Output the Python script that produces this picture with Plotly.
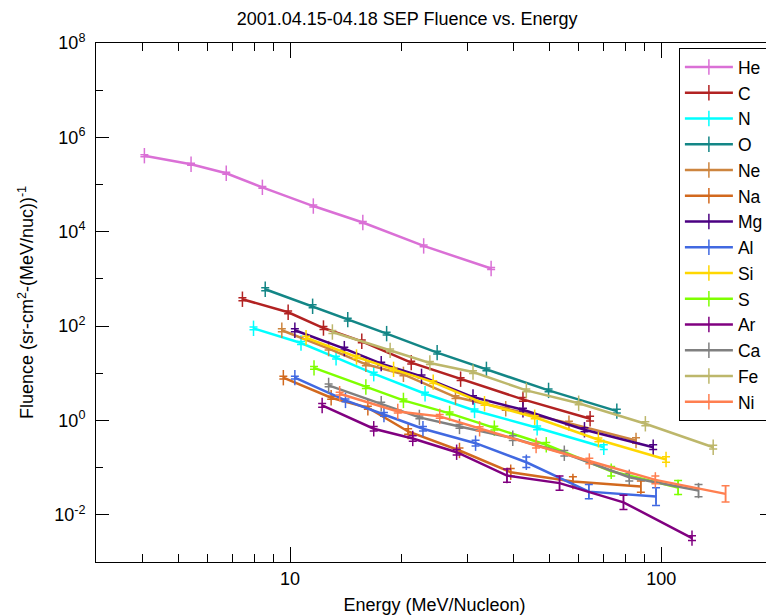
import plotly.graph_objects as go

# ---- data ----
species = ["He", "C", "N", "O", "Ne", "Na", "Mg", "Al", "Si", "S", "Ar", "Ca", "Fe", "Ni"]

he_E = [4.05, 5.41, 6.73, 8.42, 11.55, 15.7, 22.9, 34.8]
he_F = [4.09e5, 2.69e5, 1.73e5, 8.73e4, 3.5e4, 1.57e4, 5.0e3, 1.66e3]
he_err = [0.02, 0.02, 0.02, 0.02, 0.02, 0.02, 0.02, 0.02]

c_E = [7.44, 9.88, 12.3, 15.6, 21.2, 28.8, 42.4, 64.3]
c_F = [371, 196, 91, 47.6, 16.8, 7.5, 2.79, 1.09]
c_err = [0.03, 0.03, 0.03, 0.03, 0.03, 0.03, 0.04, 0.05]

n_E = [7.97, 10.7, 13.3, 16.8, 23.1, 31.4, 46.3, 70.0]
n_F = [89.8, 43.8, 21.4, 9.8, 3.69, 1.63, 0.70, 0.271]
n_err = [0.03, 0.03, 0.03, 0.03, 0.03, 0.03, 0.04, 0.05]

o_E = [8.57, 11.5, 14.3, 18.2, 24.9, 33.8, 49.7, 75.9]
o_F = [604, 263, 137, 69.3, 27.4, 12.1, 4.33, 1.58]
o_err = [0.03, 0.03, 0.03, 0.03, 0.03, 0.03, 0.03, 0.04]

ne_E = [9.5, 12.7, 16.0, 20.2, 27.9, 38.1, 56.4, 85.5]
ne_F = [81.5, 33.3, 15.5, 9.5, 3.13, 1.77, 0.877, 0.376]
ne_err = [0.03, 0.03, 0.03, 0.03, 0.03, 0.03, 0.04, 0.06]

na_E = [9.59, 12.9, 16.2, 20.8, 28.6, 39.3, 57.8, 88.1]
na_F = [8.07, 3.03, 1.86, 0.584, 0.231, 0.080, 0.051, 0.0397]
na_err = [0.03, 0.03, 0.03, 0.06, 0.05, 0.08, 0.10, 0.12]

mg_E = [10.3, 14.0, 17.6, 22.6, 31.1, 42.4, 62.1, 95.1]
mg_F = [81.5, 33.3, 16.0, 8.6, 3.13, 1.69, 0.635, 0.271]
mg_err = [0.03, 0.03, 0.03, 0.03, 0.03, 0.03, 0.04, 0.05]

al_E = [10.3, 14.1, 17.9, 22.8, 31.6, 43.3, 63.8, 96.8]
al_F = [8.07, 2.66, 1.34, 0.667, 0.33, 0.130, 0.031, 0.0243]
al_err = [0.03, 0.03, 0.04, 0.05, 0.06, 0.11, 0.15, 0.19]

si_E = [11.04, 15.1, 19.0, 24.3, 33.4, 45.6, 67.7, 103]
si_F = [57, 22.1, 12.1, 6.5, 2.26, 1.17, 0.389, 0.149]
si_err = [0.03, 0.03, 0.03, 0.03, 0.03, 0.03, 0.04, 0.06]

s_E = [11.6, 16.0, 20.2, 26.9, 35.5, 49.0, 73.3, 111]
s_F = [13.0, 5.1, 2.66, 1.41, 0.687, 0.305, 0.084, 0.038]
s_err = [0.03, 0.03, 0.03, 0.03, 0.04, 0.05, 0.10, 0.15]

ar_E = [12.2, 16.8, 21.4, 28.1, 38.4, 53.2, 79.1, 121]
ar_F = [2.08, 0.667, 0.415, 0.212, 0.068, 0.047, 0.0184, 0.0032]
ar_err = [0.04, 0.05, 0.06, 0.06, 0.14, 0.15, 0.15, 0.05]

ca_E = [12.7, 17.6, 22.3, 28.6, 39.8, 54.8, 82.0, 126]
ca_F = [5.53, 2.26, 1.16, 0.746, 0.421, 0.202, 0.0625, 0.0327]
ca_err = [0.03, 0.03, 0.03, 0.04, 0.05, 0.06, 0.08, 0.13]

fe_E = [13.0, 18.6, 23.8, 31.1, 43.3, 59.9, 90.6, 138]
fe_F = [75, 30.6, 16.5, 10.6, 4.33, 2.32, 0.851, 0.271]
fe_err = [0.03, 0.03, 0.03, 0.03, 0.03, 0.03, 0.04, 0.04]

ni_E = [13.6, 19.5, 25.3, 32.4, 46.0, 64.0, 96.4, 149]
ni_F = [3.69, 1.55, 1.22, 0.667, 0.294, 0.138, 0.055, 0.0278]
ni_err = [0.03, 0.03, 0.04, 0.04, 0.05, 0.06, 0.08, 0.17]

colors = ["#DA70D6", "#B22222", "#00FFFF", "#138686", "#CD853F", "#D2691E", "#4B0082",
          "#4169E1", "#FFD700", "#7FFF00", "#800080", "#808080", "#BDB76B", "#FF7F50"]

energies = [he_E, c_E, n_E, o_E, ne_E, na_E, mg_E, al_E, si_E, s_E, ar_E, ca_E, fe_E, ni_E]
fluences = [he_F, c_F, n_F, o_F, ne_F, na_F, mg_F, al_F, si_F, s_F, ar_F, ca_F, fe_F, ni_F]
errors = [he_err, c_err, n_err, o_err, ne_err, na_err, mg_err, al_err, si_err, s_err,
          ar_err, ca_err, fe_err, ni_err]

x_major = [10, 100]
x_minor = [4, 5, 6, 7, 8, 9, 20, 30, 40, 50, 60, 70, 80, 90, 200]
y_major = [1e-2, 1e0, 1e2, 1e4, 1e6, 1e8]
y_major_text = ["10<sup>-2</sup>", "10<sup>0</sup>", "10<sup>2</sup>", "10<sup>4</sup>",
                "10<sup>6</sup>", "10<sup>8</sup>"]
y_minor = [1e-3, 1e-1, 1e1, 1e3, 1e5, 1e7]

FONT = "Liberation Sans, Arial, Helvetica, sans-serif"

fig = go.Figure()
for name, col, E, F, er in zip(species, colors, energies, fluences, errors):
    up = [f * (10 ** e - 1) for f, e in zip(F, er)]
    dn = [f * (1 - 10 ** (-e)) for f, e in zip(F, er)]
    fig.add_trace(go.Scatter(
        x=E, y=F, name=name, mode="lines+markers", legendgroup=name,
        line=dict(color=col, width=2.5),
        marker=dict(symbol="line-ns", size=11, color=col, line=dict(color=col, width=1.5)),
        error_y=dict(type="data", symmetric=False, array=up, arrayminus=dn,
                     color=col, thickness=1.5, width=4),
    ))

# the page body adds an 8px offset, so the figure is 766x607 placed at (8, 8)
fig.update_layout(
    width=766, height=607,
    margin=dict(l=88, r=1, t=35, b=53, autoexpand=False),
    paper_bgcolor="white", plot_bgcolor="white",
    font=dict(family=FONT, size=17, color="black"),
    title=dict(text="2001.04.15-04.18 SEP Fluence vs. Energy", xref="container", x=0.521,
               xanchor="center", yref="container", y=0.983, yanchor="middle",
               font=dict(size=18, family=FONT, color="black")),
    legend=dict(x=0.861, y=0.99, xanchor="left", yanchor="top", bgcolor="white",
                bordercolor="black", borderwidth=1, font=dict(size=17.5, family=FONT),
                itemwidth=48, tracegroupgap=0),
    showlegend=True,
)
fig.update_xaxes(
    type="log", range=[0.4771, 2.301],
    tickvals=x_major, ticktext=[str(v) for v in x_major],
    ticks="inside", ticklen=15, tickwidth=1, tickcolor="black",
    minor=dict(tickvals=x_minor, ticks="inside", ticklen=8, tickwidth=1, tickcolor="black"),
    showline=True, linecolor="black", linewidth=1, mirror="ticks",
    showgrid=False, zeroline=False, automargin=False,
    title=dict(text="Energy (MeV/Nucleon)", font=dict(size=18)),
    tickfont=dict(size=18),
)
fig.update_yaxes(
    type="log", range=[-3, 8],
    tickvals=y_major, ticktext=y_major_text,
    ticks="inside", ticklen=13, tickwidth=1, tickcolor="black",
    minor=dict(tickvals=y_minor, ticks="inside", ticklen=7, tickwidth=1, tickcolor="black"),
    showline=True, linecolor="black", linewidth=1, mirror="ticks",
    showgrid=False, zeroline=False, automargin=False,
    title=dict(text="Fluence (sr-cm<sup>2</sup>-(MeV/nuc))<sup>-1</sup>", font=dict(size=18)),
    tickfont=dict(size=18), ticklabelstandoff=6,
)

fig.write_html("out.html")
